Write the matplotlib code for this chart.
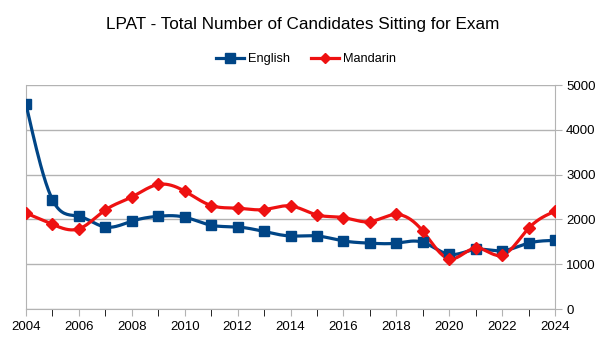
import numpy as np
import matplotlib
matplotlib.use('Agg')
import matplotlib.pyplot as plt
from matplotlib.ticker import MultipleLocator

years = list(range(2004, 2025))
english = [4570, 2440, 2070, 1830, 1960, 2070, 2050, 1870, 1830, 1730, 1630,
           1630, 1520, 1470, 1470, 1490, 1220, 1330, 1300, 1470, 1530]
mandarin = [2140, 1890, 1790, 2210, 2500, 2780, 2630, 2310, 2250, 2220, 2300,
            2100, 2040, 1950, 2110, 1740, 1120, 1360, 1200, 1800, 2180]


def natural_spline(x, y, n=20):
    # natural cubic spline, just for the smoothed line look
    x = np.asarray(x, float)
    y = np.asarray(y, float)
    k = len(x)
    h = np.diff(x)
    A = np.zeros((k, k))
    b = np.zeros(k)
    A[0, 0] = A[-1, -1] = 1
    for i in range(1, k - 1):
        A[i, i - 1] = h[i - 1]
        A[i, i] = 2 * (h[i - 1] + h[i])
        A[i, i + 1] = h[i]
        b[i] = 3 * ((y[i + 1] - y[i]) / h[i] - (y[i] - y[i - 1]) / h[i - 1])
    c = np.linalg.solve(A, b)
    xs, ys = [], []
    for i in range(k - 1):
        bi = (y[i + 1] - y[i]) / h[i] - h[i] * (2 * c[i] + c[i + 1]) / 3
        di = (c[i + 1] - c[i]) / (3 * h[i])
        t = np.linspace(0, h[i], n, endpoint=False)
        xs.append(x[i] + t)
        ys.append(y[i] + bi * t + c[i] * t ** 2 + di * t ** 3)
    xs.append([x[-1]])
    ys.append([y[-1]])
    return np.concatenate(xs), np.concatenate(ys)


plt.rcParams['font.family'] = ['Liberation Sans', 'DejaVu Sans']

fig = plt.figure(figsize=(6.06, 3.41), dpi=100)
ax = fig.add_axes([26 / 606, 1 - 309 / 341, (555 - 26) / 606, (309 - 85) / 341])

blue = '#004586'
red = '#ee1111'

sx, sy = natural_spline(years, english)
ax.plot(sx, sy, color=blue, lw=2.3, zorder=3)
ax.plot(years, english, ls='none', marker='s', ms=7.5, color=blue, zorder=4)
sx, sy = natural_spline(years, mandarin)
ax.plot(sx, sy, color=red, lw=2.3, zorder=3)
ax.plot(years, mandarin, ls='none', marker='D', ms=6, color=red, zorder=4)

# legend proxies
ax.plot([], [], color=blue, lw=2.3, marker='s', ms=6.5, label='English')
ax.plot([], [], color=red, lw=2.3, marker='D', ms=5, label='Mandarin')
fig.legend(loc='center', bbox_to_anchor=(0.505, 1 - 59 / 341), ncol=2, frameon=False,
           fontsize=9.2, handlelength=2.2, handletextpad=0.3, columnspacing=1.6)

ax.set_xlim(2004, 2024)
ax.set_ylim(0, 5000)
ax.xaxis.set_major_locator(MultipleLocator(2))
ax.xaxis.set_minor_locator(MultipleLocator(1))
ax.yaxis.set_major_locator(MultipleLocator(1000))
ax.yaxis.tick_right()
ax.tick_params(axis='both', colors='#b3b3b3', labelcolor='black', labelsize=9.5)
ax.tick_params(axis='x', which='both', length=5, direction='out')
ax.tick_params(axis='y', length=5, direction='out', pad=3)
ax.grid(axis='y', color='#b3b3b3', lw=1)
ax.set_axisbelow(True)
for side in ['left', 'right', 'bottom']:
    ax.spines[side].set_color('#b3b3b3')
ax.spines['top'].set_visible(False)

fig.text(0.5, 1 - 25 / 341, 'LPAT - Total Number of Candidates Sitting for Exam',
         ha='center', va='center', fontsize=12.3)

fig.savefig('out.png', dpi=100)
